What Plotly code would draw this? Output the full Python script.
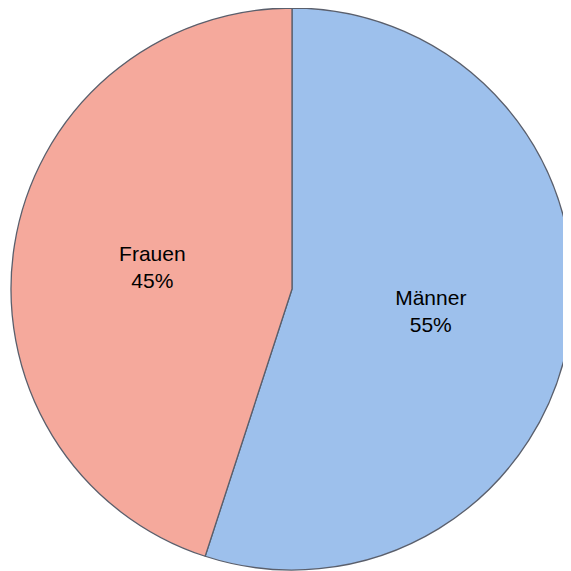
import plotly.graph_objects as go

labels = ["Männer", "Frauen"]
values = [55, 45]
colors = ["#9DC0EC", "#F5A99C"]

fig = go.Figure(go.Pie(
    labels=labels,
    values=values,
    sort=False,
    direction="clockwise",
    rotation=0,
    marker=dict(colors=colors, line=dict(color="#5a5f6c", width=1.3)),
    textinfo="label+percent",
    textposition="inside",
    insidetextorientation="horizontal",
    texttemplate="%{label}<br>%{percent:.0%}",
    textfont=dict(family="Liberation Sans, Arial, sans-serif", size=21, color="black"),
    showlegend=False,
    hoverinfo="label+percent",
))

fig.update_layout(
    width=571, height=571,
    margin=dict(l=3, r=6, t=0, b=9),
    paper_bgcolor="white",
    plot_bgcolor="white",
)

fig.write_html("out.html")
